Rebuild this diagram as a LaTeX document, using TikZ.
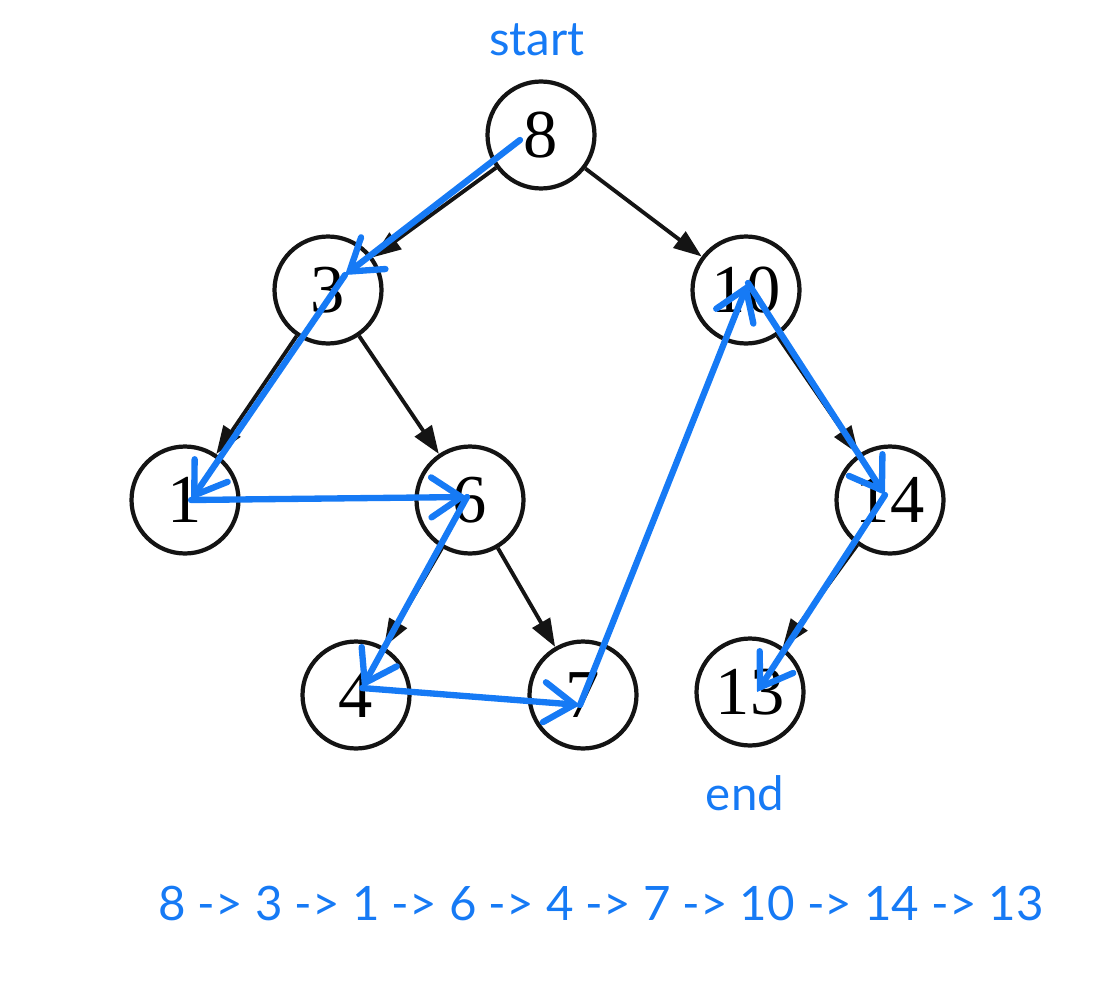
\documentclass[tikz,border=0pt]{standalone}
\usepackage{fontspec}
\setmainfont{Liberation Serif}
\newfontfamily\handfont{Lato}
\usetikzlibrary{arrows.meta, calc}
\definecolor{visitBlue}{RGB}{22,122,245}
\definecolor{treeEdge}{RGB}{20,20,20}

\begin{document}
\begin{tikzpicture}[
    x=0.02cm, y=-0.02cm,
    tnode/.style={circle, draw=treeEdge, line width=2.4pt, minimum size=2.14cm, inner sep=0pt, font=\fontsize{39}{39}\selectfont},
    tarr/.style={-{Triangle[length=5.6mm, width=4mm]}, line width=2.2pt, treeEdge},
    visit/.style={-{Straight Barb[length=6mm, width=8mm, line cap=round]}, line width=3.6pt, visitBlue, line cap=round, line join=round},
    hand/.style={text=visitBlue, font=\handfont\fontsize{27}{30}\selectfont},
]
\useasboundingbox (0,0) rectangle (1101,1000);

% ========== TREE (black) ==========
\node[tnode] at (541,135) (n8) {8};
\node[tnode] at (328,290) (n3) {3};
\node[tnode] at (746,290) (n10) {10};
\node[tnode] at (185,500) (n1) {1};
\node[tnode] at (470,500) (n6) {6};
\node[tnode] at (890,500) (n14) {14};
\node[tnode] at (356,695) (n4) {4};
\node[tnode] at (583,695) (n7) {7};
\node[tnode] at (750,692) (n13) {13};

\draw[tarr] (n8) -- (n3);
\draw[tarr] (n8) -- (n10);
\draw[tarr] (n3) -- (n1);
\draw[tarr] (n3) -- (n6);
\draw[tarr] (n6) -- (n4);
\draw[tarr] (n6) -- (n7);
\draw[tarr] (n10) -- (n14);
\draw[tarr] (n14) -- (n13);

% ========== VISIT ORDER (blue) ==========
\coordinate (v8) at ($(n8)+(-21,5)$);
\coordinate (v3) at ($(n3)+(17,-15)$);
\coordinate (v1) at ($(n1)+(6,0)$);
\coordinate (v6) at ($(n6)+(-3,-3)$);
\coordinate (v4) at ($(n4)+(6,-7)$);
\coordinate (v7) at ($(n7)+(-3,10)$);
\coordinate (v10) at ($(n10)+(2,-7)$);
\coordinate (v14) at ($(n14)+(-5,-5)$);
\coordinate (v13) at ($(n13)+(7,0)$);

\draw[visit] (v8) -- (v3);
\draw[visit] (v3) -- (v1);
\draw[visit] (v1) -- (v6);
\draw[visit] (v6) -- (v4);
\draw[visit] (v4) -- (v7);
\draw[visit] (v7) -- (v10);
\draw[visit] (v10) -- (v14);
\draw[visit] (v14) -- (v13);

% labels
\node[hand] at (537,40) (lstart) {start};
\node[hand] at (745,793) (lend) {end};
\node[hand] at (601,903) (order) {8 -> 3 -> 1 -> 6 -> 4 -> 7 -> 10 -> 14 -> 13};

\end{tikzpicture}
\end{document}
